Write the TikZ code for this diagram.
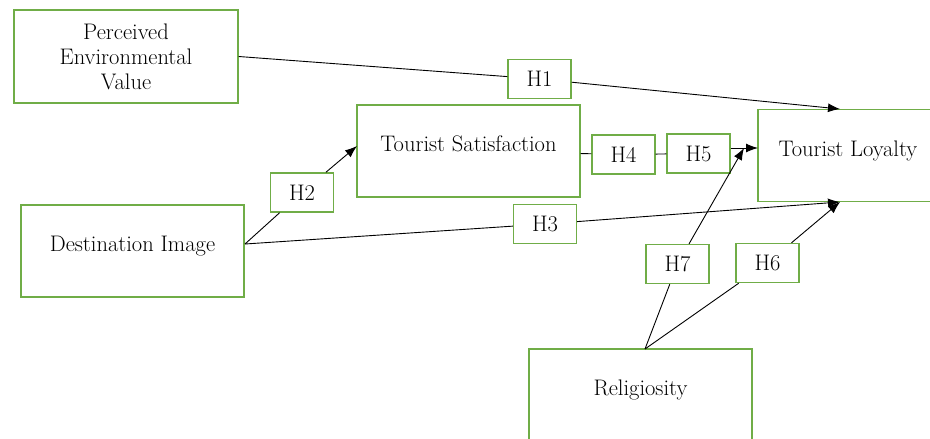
\documentclass[tikz,border=0pt]{standalone}
\usetikzlibrary{arrows.meta}
\definecolor{boxgreen}{RGB}{112,173,71}
\tikzset{
  every node/.style={font=\fontsize{22.5}{25}\selectfont, text=black},
  boxbase/.style={draw=boxgreen, line width=1.4pt, fill=white, inner sep=0pt},
  bigbox/.style={boxbase, minimum width=223pt, minimum height=92pt, text height=15pt, text depth=15pt},
  hbox/.style={boxbase, minimum width=63pt, minimum height=39pt},
  conn/.style={draw=black, line width=0.9pt},
  arr/.style={conn, -{Latex[length=12pt,width=9pt]}}
}
\begin{document}
\begin{tikzpicture}[x=1pt,y=-1pt]
\useasboundingbox (0,0) rectangle (930,439);
% boxes
\node[boxbase, align=center, minimum width=224pt, minimum height=93pt] (pev) at (126,56.5) {Perceived\\Environmental\\Value};
\node[bigbox] (ts) at (468.5,151) {Tourist Satisfaction};
\node[bigbox, text depth=12.5pt] (tl) at (869.5,155.5) {\hspace*{-43pt}Tourist Loyalty};
\node[bigbox] (di) at (132.5,251) {Destination Image};
\node[bigbox, text depth=13.5pt] (rel) at (640.5,395) {Religiosity};
% anchor coordinates
\coordinate (tlT) at (840,109);
\coordinate (tlB) at (840,202);
\coordinate (tlL) at (758,148);
\coordinate (tlM) at (744,148);
\coordinate (tsL) at (357,146);
\coordinate (diR) at (245,244);
\coordinate (relT) at (645,349);
% hypothesis boxes
\node[hbox] (h1) at (539.5,79) {H1};
\node[hbox] (h2) at (302,192.5) {H2};
\node[hbox] (h3) at (545,224) {H3};
\node[hbox] (h4) at (623.5,154.5) {H4};
\node[hbox] (h5) at (698.5,153.5) {H5};
\node[hbox] (h7) at (677.5,264) {H7};
\node[hbox] (h6) at (767.5,263) {H6};
% connectors
\draw[conn] (pev.east) -- (h1);
\draw[arr] (h1) -- (tlT);
\draw[conn] (diR) -- (h2);
\draw[arr] (h2) -- (tsL);
\draw[conn] (diR) -- (h3);
\draw[arr] (h3) -- (tlB);
\draw[conn] (ts) -- (h4);
\draw[conn] (h4) -- (h5);
\draw[arr] ([yshift=5.5pt]h5.east) -- (tlL);
\draw[conn] (relT) -- (h7);
\draw[arr] (h7) -- (tlM);
\draw[conn] (relT) -- (h6);
\draw[arr] (h6) -- (tlB);
\end{tikzpicture}
\end{document}
